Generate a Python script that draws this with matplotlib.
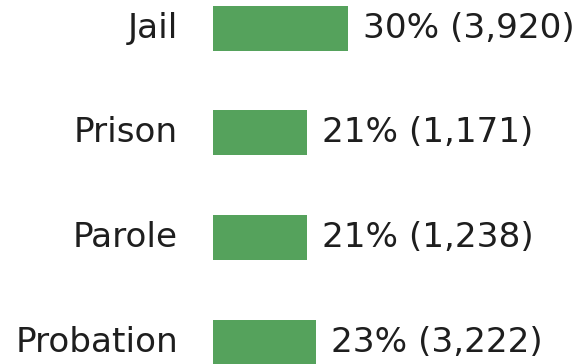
import matplotlib
matplotlib.use("Agg")
import matplotlib.pyplot as plt
from matplotlib.transforms import offset_copy

categories = ["Jail", "Prison", "Parole", "Probation"]
percent = [30, 21, 21, 23]
counts = ["3,920", "1,171", "1,238", "3,222"]

W, H, DPI = 585, 364, 100
fig = plt.figure(figsize=(W / DPI, H / DPI), dpi=DPI)
fig.patch.set_facecolor("white")

# axes start where the bars begin; labels live in the left margin
left_px = 213
ax = fig.add_axes([left_px / W, 0, 1 - left_px / W, 1])
ax.set_axis_off()

px_per_pct = 4.49
ax.set_xlim(0, (W - left_px) / px_per_pct)
first_center, step = 28.3, 104.6
ax.set_ylim((H - first_center) / step, -first_center / step)

ypos = list(range(len(categories)))
bar_color = "#55a25c"
ax.barh(ypos, percent, height=0.43, color=bar_color, edgecolor="none")

text_color = "#1e1e1e"
fs = 24.7
label_tf = offset_copy(ax.transData, fig=fig, x=-35, y=0, units="dots")
value_tf = offset_copy(ax.transData, fig=fig, x=15, y=0, units="dots")
for y, cat, p, c in zip(ypos, categories, percent, counts):
    ax.text(0, y, cat, transform=label_tf, ha="right", va="center",
            fontsize=fs, color=text_color, family="DejaVu Sans")
    ax.text(p, y, f"{p}% ({c})", transform=value_tf, ha="left", va="center",
            fontsize=fs, color=text_color, family="DejaVu Sans")

fig.savefig("out.png", dpi=DPI, facecolor="white")
